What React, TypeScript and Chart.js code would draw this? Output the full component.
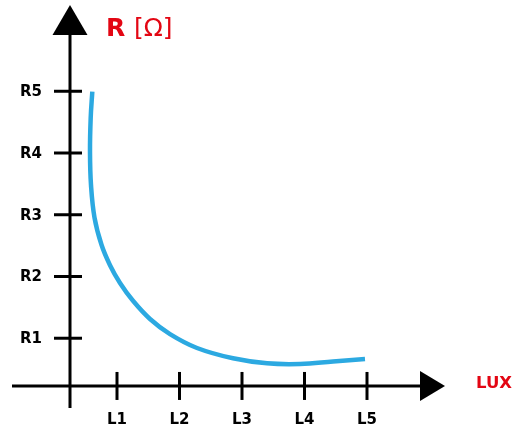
import React, { useEffect, useRef } from "react";
import { Chart, registerables } from "chart.js";

Chart.register(...registerables);

// Curve (light level vs resistance)
const luxValues = [0.605, 0.579, 0.568, 0.584, 0.64, 0.752, 0.888, 1.048, 1.256, 1.528, 1.848, 2.28, 2.856, 3.4, 3.928, 4.456, 4.968];
const resistanceValues = [4.993, 4.567, 4.016, 3.482, 2.955, 2.513, 2.183, 1.895, 1.606, 1.312, 1.067, 0.842, 0.675, 0.594, 0.583, 0.623, 0.664];

// Ticks
const xTickValues = [1, 2, 3, 4, 5];
const xTickLabels = ["L1", "L2", "L3", "L4", "L5"];
const yTickValues = [1, 2, 3, 4, 5];
const yTickLabels = ["R1", "R2", "R3", "R4", "R5"];

// Axis titles
const yAxisTitleMain = "R";
const yAxisTitleUnit = "[Ω]";
const xAxisTitle = "LUX";

// Where the two axes cross (in data units)
const xAxisAtY = 0.227;
const yAxisAtX = 0.248;

// Visible range (data units)
const xMin = -0.68;
const xMax = 6.248;
const yMin = -0.13;
const yMax = 6.397;

const RED = "#E30613";
const BLUE = "#2CA9E1";
const FONT = "'DejaVu Sans', 'Open Sans', sans-serif";

const axesPlugin = {
  id: "customAxes",
  afterDraw(chart: any) {
    const ctx = chart.ctx as CanvasRenderingContext2D;
    const xs = chart.scales.x;
    const ys = chart.scales.y;
    const area = chart.chartArea;
    const ax = xs.getPixelForValue(yAxisAtX);
    const ay = ys.getPixelForValue(xAxisAtY);
    ctx.save();
    ctx.strokeStyle = "#000";
    ctx.fillStyle = "#000";
    ctx.lineWidth = 3;
    ctx.lineCap = "butt";

    // x axis line
    const xArrowBase = area.right - 25;
    ctx.beginPath();
    ctx.moveTo(area.left, ay);
    ctx.lineTo(xArrowBase + 1, ay);
    ctx.stroke();
    // x arrow
    ctx.beginPath();
    ctx.moveTo(xArrowBase, ay - 15);
    ctx.lineTo(area.right, ay);
    ctx.lineTo(xArrowBase, ay + 15);
    ctx.closePath();
    ctx.fill();

    // y axis line
    const yArrowBase = area.top + 30;
    ctx.beginPath();
    ctx.moveTo(ax, area.bottom);
    ctx.lineTo(ax, yArrowBase - 1);
    ctx.stroke();
    // y arrow
    ctx.beginPath();
    ctx.moveTo(ax - 17.5, yArrowBase);
    ctx.lineTo(ax, area.top);
    ctx.lineTo(ax + 17.5, yArrowBase);
    ctx.closePath();
    ctx.fill();

    // x ticks + labels
    ctx.font = `700 15px ${FONT}`;
    ctx.textAlign = "center";
    ctx.textBaseline = "middle";
    xTickValues.forEach((v, i) => {
      const px = xs.getPixelForValue(v);
      ctx.beginPath();
      ctx.moveTo(px, ay - 14);
      ctx.lineTo(px, ay + 14);
      ctx.stroke();
      ctx.fillText(xTickLabels[i], px, ay + 34);
    });

    // y ticks + labels
    ctx.textAlign = "right";
    yTickValues.forEach((v, i) => {
      const py = ys.getPixelForValue(v);
      ctx.beginPath();
      ctx.moveTo(ax - 16, py);
      ctx.lineTo(ax + 12, py);
      ctx.stroke();
      ctx.fillText(yTickLabels[i], ax - 28, py + 1);
    });

    // y title
    ctx.fillStyle = RED;
    ctx.textAlign = "left";
    ctx.textBaseline = "alphabetic";
    ctx.font = `700 25px ${FONT}`;
    const tx = ax + 36;
    const ty = area.top + 31;
    ctx.fillText(yAxisTitleMain, tx, ty);
    const w = ctx.measureText(yAxisTitleMain + " ").width;
    ctx.font = `400 25px ${FONT}`;
    ctx.fillText(yAxisTitleUnit, tx + w, ty);

    // x title
    ctx.font = `700 16.5px ${FONT}`;
    ctx.textBaseline = "middle";
    ctx.fillText(xAxisTitle, area.right + 31, ay - 2);
    ctx.restore();
  },
};

export default function App() {
  const ref = useRef<HTMLCanvasElement | null>(null);
  useEffect(() => {
    if (!ref.current) return;
    const points = luxValues.map((x, i) => ({ x, y: resistanceValues[i] }));
    const chart = new Chart(ref.current, {
      type: "scatter",
      data: {
        datasets: [
          {
            data: points,
            showLine: true,
            borderColor: BLUE,
            borderWidth: 4.5,
            pointRadius: 0,
            tension: 0.4,
            fill: false,
          },
        ],
      },
      options: {
        animation: false,
        responsive: false,
        devicePixelRatio: 1,
        layout: { padding: { left: 12, right: 71, top: 5, bottom: 21 } },
        plugins: { legend: { display: false }, tooltip: { enabled: false } },
        scales: {
          x: { type: "linear", min: xMin, max: xMax, display: false },
          y: { type: "linear", min: yMin, max: yMax, display: false },
        },
      },
      plugins: [axesPlugin],
    });
    return () => chart.destroy();
  }, []);
  return (
    <div style={{ position: "fixed", left: 0, top: 0, width: 516, height: 429, background: "#fff" }}>
      <canvas ref={ref} width={516} height={429} style={{ width: 516, height: 429 }} />
    </div>
  );
}
